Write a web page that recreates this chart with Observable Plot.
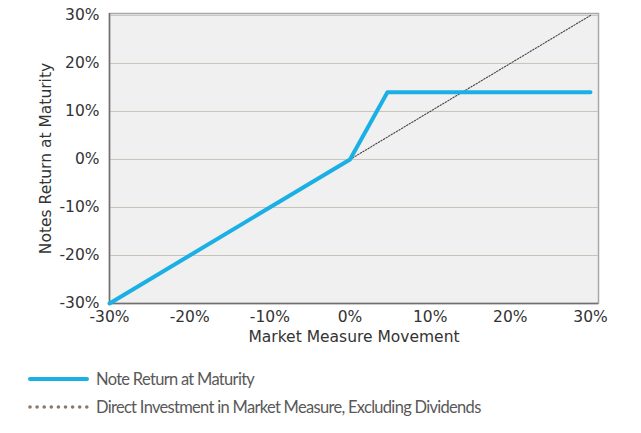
<!DOCTYPE html>
<html>
<head>
<meta charset="utf-8">
<script src="https://cdn.jsdelivr.net/npm/d3@7"></script>
<script src="https://cdn.jsdelivr.net/npm/@observablehq/plot@0.6"></script>
<style>
  body { margin: 0; background: #fff; }
  #chart svg { display: block; }
  #chart svg, #chart svg text { font-family: 'DejaVu Sans', sans-serif !important; }
  .legend { font-family: Lato, 'Open Sans', sans-serif; font-size: 16.5px; letter-spacing: -0.7px; color: #595959; }
  .row { position: absolute; left: 28px; display: flex; align-items: center; }
  .row svg { margin-right: 7px; }
</style>
</head>
<body>
<div id="chart"></div>
<div class="legend">
  <div class="row" style="top:369px">
    <svg width="61" height="8"><line x1="2" y1="4" x2="59" y2="4" stroke="#1ab0e6" stroke-width="4" stroke-linecap="round"/></svg>
    <span>Note Return at Maturity</span>
  </div>
  <div class="row" style="top:397px">
    <svg width="61" height="8"><line x1="2" y1="4" x2="60" y2="4" stroke="#8a7868" stroke-width="3.6" stroke-linecap="round" stroke-dasharray="0,7.1"/></svg>
    <span>Direct Investment in Market Measure, Excluding Dividends</span>
  </div>
</div>
<script>
const noteX = [-30, 0, 4.67, 30];
const noteY = [-30, 0, 14, 14];
const directX = [0, 30];
const directY = [0, 30];
const xTicks = [-30, -20, -10, 0, 10, 20, 30];
const yTicks = [-30, -20, -10, 0, 10, 20, 30];

const note = noteX.map((x, i) => ({x, y: noteY[i]}));
const direct = directX.map((x, i) => ({x, y: directY[i]}));

const fmt = d => d + "%";

const plot = Plot.plot({
  width: 641,
  height: 350,
  marginLeft: 109,
  marginRight: 43,
  marginTop: 13,
  marginBottom: 47,
  style: {fontFamily: "'DejaVu Sans', sans-serif", fontSize: "15.5px", color: "#333", background: "#fff"},
  x: {domain: [-30, 31]},
  y: {domain: [-30, 30.4]},
  marks: [
    Plot.frame({fill: "#f0f0f0", stroke: "#a8a8a8", strokeWidth: 1.5}),
    Plot.gridY(yTicks, {stroke: "#c8c2bd", strokeOpacity: 1, strokeWidth: 1}),
    Plot.ruleX([-30], {stroke: "#707070", strokeWidth: 1.5}),
    Plot.ruleY([-30], {stroke: "#707070", strokeWidth: 1.5}),
    Plot.line(direct, {x: "x", y: "y", stroke: "#444", strokeWidth: 1.1, strokeDasharray: "1.4,1.6"}),
    Plot.line(note, {x: "x", y: "y", stroke: "#1ab0e6", strokeWidth: 4}),
    Plot.axisX(xTicks, {tickSize: 0, tickPadding: 7, tickFormat: fmt, fontSize: 15.5,
      label: "Market Measure Movement", labelAnchor: "center", labelArrow: "none", labelOffset: 38}),
    Plot.axisY(yTicks, {tickSize: 0, tickPadding: 10, tickFormat: fmt, fontSize: 15.5,
      label: "Notes Return at Maturity", labelAnchor: "center", labelArrow: "none", labelOffset: 70})
  ]
});
document.getElementById("chart").appendChild(plot);
</script>
</body>
</html>
